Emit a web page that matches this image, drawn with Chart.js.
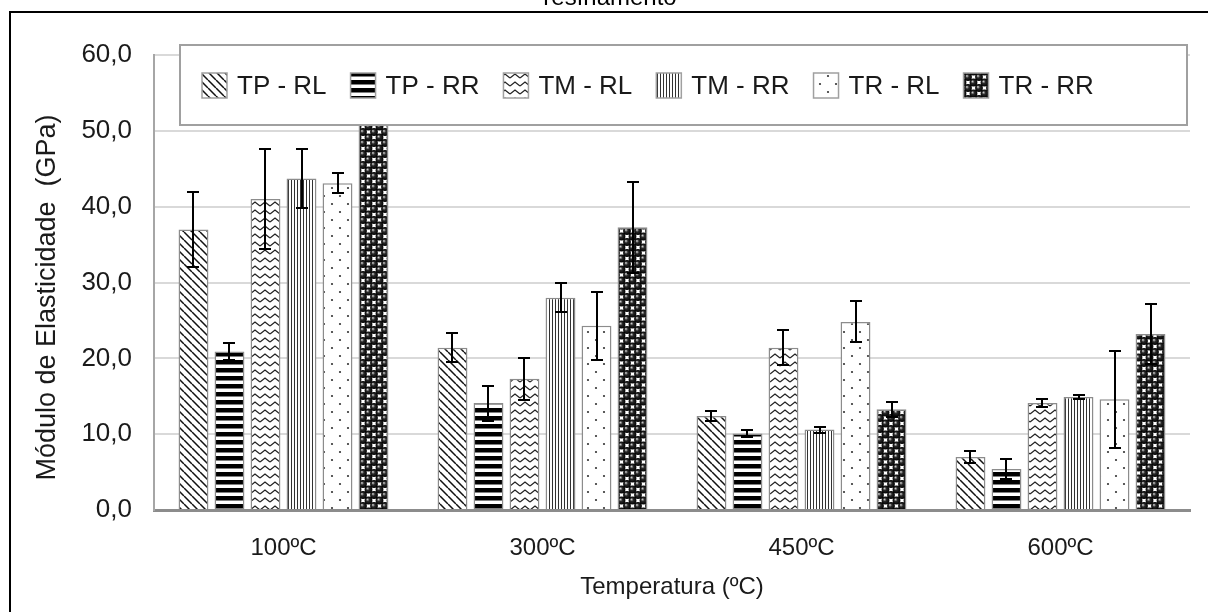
<!DOCTYPE html>
<html>
<head>
<meta charset="utf-8">
<title>Módulo de Elasticidade</title>
<script src="https://cdn.jsdelivr.net/npm/chart.js@4.4.1/dist/chart.umd.min.js"></script>
<style>
  html, body { margin: 0; padding: 0; background: #fff; }
  #wrap { width: 1208px; height: 612px; }
</style>
</head>
<body>
<div id="wrap"><canvas id="modChart" width="1208" height="612"></canvas></div>
<script>
// modulus of elasticity (GPa) after heating, per treatment / direction
const temperatures = ['100ºC', '300ºC', '450ºC', '600ºC'];
const seriesNames = ['TP - RL', 'TP - RR', 'TM - RL', 'TM - RR', 'TR - RL', 'TR - RR'];

const tpRL = [37.0, 21.4, 12.4, 7.0];
const tpRR = [20.9, 14.1, 10.1, 5.4];
const tmRL = [41.0, 17.3, 21.4, 14.1];
const tmRR = [43.7, 28.0, 10.6, 14.9];
const trRL = [43.1, 24.3, 24.8, 14.6];
const trRR = [55.0, 37.3, 13.3, 23.2];

// standard deviations (error bars)
const tpRLErr = [5.0, 1.9, 0.7, 0.8];
const tpRRErr = [1.1, 2.3, 0.5, 1.3];
const tmRLErr = [6.6, 2.8, 2.3, 0.5];
const tmRRErr = [3.9, 1.9, 0.4, 0.2];
const trRLErr = [1.3, 4.5, 2.7, 6.4];
const trRRErr = [4.0, 6.0, 1.0, 4.0];

const yTickLabels = ['0,0', '10,0', '20,0', '30,0', '40,0', '50,0', '60,0'];

const FONT = "'Liberation Sans', Arial, sans-serif";
const TEXT = '#1a1a1a';
const canvas = document.getElementById('modChart');
const mainCtx = canvas.getContext('2d');

// build a repeating fill from a small tile
function makeTile(w, h, draw){
  const c = document.createElement('canvas');
  c.width = w; c.height = h;
  const g = c.getContext('2d');
  g.fillStyle = '#fff';
  g.fillRect(0, 0, w, h);
  draw(g, w, h);
  return mainCtx.createPattern(c, 'repeat');
}

const diagonal = makeTile(8, 8, (g) => {
  g.strokeStyle = '#111'; g.lineWidth = 1.5;
  g.beginPath();
  for(const k of [-8, 0, 8]){ g.moveTo(k, 0); g.lineTo(k + 8, 8); }
  g.stroke();
});

const hStripes = makeTile(8, 8, (g) => {
  g.fillStyle = '#000';
  g.fillRect(0, 0, 8, 4.5);
});

const zigzag = makeTile(10, 8, (g) => {
  g.strokeStyle = '#222'; g.lineWidth = 1.3;
  g.beginPath();
  g.moveTo(0, 6); g.lineTo(5, 2); g.lineTo(10, 6);
  g.stroke();
});

const vLines = makeTile(3, 4, (g) => {
  g.fillStyle = '#333';
  g.fillRect(0, 0, 1, 4);
});

const dots = makeTile(16, 16, (g) => {
  g.fillStyle = '#333';
  for(const [x, y] of [[4, 4], [12, 12]]){
    g.beginPath(); g.arc(x, y, 1.1, 0, Math.PI * 2); g.fill();
  }
});

// shaded balls on a diagonal lattice, white gaps between them
const spheres = makeTile(11, 11, (g) => {
  const centers = [[0, 0], [11, 0], [5.5, 5.5], [0, 11], [11, 11]];
  for(const [x, y] of centers){
    const grad = g.createRadialGradient(x - 1.2, y - 1.2, 0.2, x, y, 3.9);
    grad.addColorStop(0, '#d0d0d0');
    grad.addColorStop(0.4, '#2a2a2a');
    grad.addColorStop(1, '#000');
    g.fillStyle = grad;
    g.beginPath(); g.arc(x, y, 3.9, 0, Math.PI * 2); g.fill();
  }
});

const seriesValues = [tpRL, tpRR, tmRL, tmRR, trRL, trRR];
const seriesErrors = [tpRLErr, tpRRErr, tmRLErr, tmRRErr, trRLErr, trRRErr];
const seriesFills = [diagonal, hStripes, zigzag, vLines, dots, spheres];

const datasets = seriesNames.map((name, i) => ({
  label: name,
  data: seriesValues[i],
  backgroundColor: seriesFills[i],
  borderColor: '#8c8c8c',
  borderWidth: 1.5,
  categoryPercentage: 0.834,
  barPercentage: 0.83
}));

// white background, outer frame and the (partly cut) title line
const frame = {
  id: 'frame',
  beforeDraw(chart){
    const ctx = chart.ctx;
    ctx.save();
    ctx.fillStyle = '#fff';
    ctx.fillRect(0, 0, chart.width, chart.height);
    ctx.strokeStyle = '#000';
    ctx.lineWidth = 2;
    ctx.strokeRect(10, 12, chart.width + 20, chart.height + 20);
    ctx.fillStyle = '#000';
    ctx.font = '24px ' + FONT;
    ctx.textAlign = 'center';
    ctx.textBaseline = 'alphabetic';
    ctx.fillText('resfriamento', 610, 5);
    ctx.restore();
  }
};

const errorBars = {
  id: 'errorBars',
  afterDatasetsDraw(chart){
    const ctx = chart.ctx;
    const y = chart.scales.y;
    ctx.save();
    ctx.strokeStyle = '#000';
    ctx.lineWidth = 2;
    chart.data.datasets.forEach((ds, di) => {
      const meta = chart.getDatasetMeta(di);
      meta.data.forEach((bar, i) => {
        const v = ds.data[i], e = seriesErrors[di][i];
        const yTop = Math.round(y.getPixelForValue(v + e));
        const yBot = Math.round(y.getPixelForValue(v - e));
        const x = Math.round(bar.x);
        ctx.beginPath();
        ctx.moveTo(x, yTop); ctx.lineTo(x, yBot);
        ctx.moveTo(x - 6, yTop); ctx.lineTo(x + 6, yTop);
        ctx.moveTo(x - 6, yBot); ctx.lineTo(x + 6, yBot);
        ctx.stroke();
      });
    });
    ctx.restore();
  }
};

// legend box sits inside the plot, on top of the bars
const boxLegend = {
  id: 'boxLegend',
  afterDraw(chart){
    const ctx = chart.ctx;
    const box = { x: 180, y: 45, w: 1007, h: 80 };
    ctx.save();
    ctx.fillStyle = '#fff';
    ctx.fillRect(box.x, box.y, box.w, box.h);
    ctx.strokeStyle = '#a0a0a0';
    ctx.lineWidth = 2;
    ctx.strokeRect(box.x, box.y, box.w, box.h);

    ctx.font = '26px ' + FONT;
    ctx.textBaseline = 'alphabetic';
    ctx.textAlign = 'left';
    let x = 202;
    chart.data.datasets.forEach((ds) => {
      ctx.fillStyle = ds.backgroundColor;
      ctx.fillRect(x, 73, 25, 25);
      ctx.strokeStyle = '#a0a0a0';
      ctx.lineWidth = 1.5;
      ctx.strokeRect(x, 73, 25, 25);
      ctx.fillStyle = TEXT;
      ctx.fillText(ds.label, x + 35, 94);
      x += 35 + ctx.measureText(ds.label).width + 24;
    });
    ctx.restore();
  }
};

new Chart(canvas, {
  type: 'bar',
  data: { labels: temperatures, datasets: datasets },
  plugins: [frame, errorBars, boxLegend],
  options: {
    responsive: false,
    devicePixelRatio: 1,
    animation: false,
    layout: { padding: { left: 10, right: 18, top: 55, bottom: 0 } },
    plugins: {
      legend: { display: false },
      title: { display: false },
      tooltip: { enabled: false }
    },
    scales: {
      x: {
        grid: { display: false, drawTicks: false },
        border: { display: true, color: '#8c8c8c', width: 3 },
        ticks: { color: TEXT, padding: 24, font: { size: 24, family: FONT } },
        title: {
          display: true,
          text: 'Temperatura (ºC)',
          color: TEXT,
          font: { size: 24, family: FONT },
          padding: { top: 0, bottom: 10 }
        },
        afterFit(scale){ scale.height = 102; }
      },
      y: {
        min: 0,
        max: 60,
        grid: { color: '#d9d9d9', lineWidth: 2, drawTicks: false },
        border: { display: true, color: '#a6a6a6', width: 2 },
        ticks: {
          stepSize: 10,
          padding: 22,
          color: TEXT,
          font: { size: 26, family: FONT },
          callback: (v, i) => yTickLabels[i]
        },
        title: {
          display: true,
          text: 'Módulo de Elasticidade  (GPa)    ',
          color: TEXT,
          font: { size: 27, family: FONT },
          padding: { top: 21, bottom: 0 }
        },
        afterFit(scale){ scale.width = 144; }
      }
    }
  }
});
</script>
</body>
</html>
